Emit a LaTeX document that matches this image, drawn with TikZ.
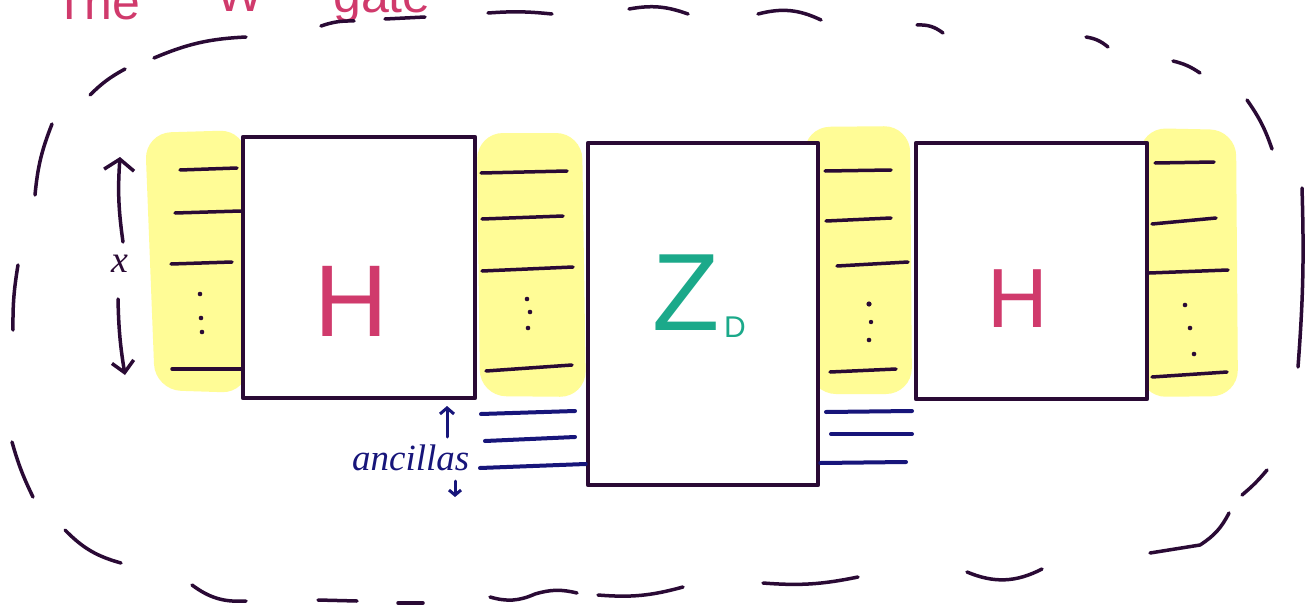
\documentclass[tikz,border=0pt]{standalone}
\usepackage{fontspec}
\setmainfont{Liberation Sans}
\newfontfamily\serifit{Liberation Serif}
\usetikzlibrary{arrows.meta}
\definecolor{ink}{RGB}{42,10,53}
\definecolor{crimson}{RGB}{208,58,108}
\definecolor{zgreen}{RGB}{27,169,138}
\definecolor{navyink}{RGB}{23,21,122}
\definecolor{hl}{RGB}{255,252,150}
\begin{document}
\begin{tikzpicture}[x=1pt,y=-1pt, line cap=round, line join=round,
  wire/.style={ink, line width=3.5pt},
  anc/.style={navyink, line width=4pt},
  gatebox/.style={draw=ink, line width=4.5pt, fill=white, inner sep=0pt},
  hlblob/.style={fill=hl, rounded corners=26pt},
  dsh/.style={ink, line width=3.5pt},
  dotm/.style={ink},
  titletext/.style={text=crimson, anchor=base west, font=\fontsize{50}{50}\selectfont, inner sep=0pt}]
\clip (0,0) rectangle (1308,607);
\fill[white] (0,0) rectangle (1308,607);

% title (cut off at top, as in the reference)
\node[titletext] (t1) at (54,20) {The};
\node[titletext] (t2) at (200,12) {“W”};
\node[titletext] (t3) at (333,13) {gate};

% highlight blobs
\fill[hlblob] (145,133) -- (246,130) -- (248,393) -- (155,390) -- cycle;
\fill[hlblob] (477,133) -- (582,133) -- (586,397) -- (480,396) -- cycle;
\fill[hlblob] (804,127) -- (910,126) -- (912,394) -- (810,394) -- cycle;
\fill[hlblob] (1140,128) -- (1236,130) -- (1238,396) -- (1140,397) -- cycle;

% gate boxes
\node[gatebox, minimum width=232pt, minimum height=261pt] (h1) at (359,267.5) {};
\node[gatebox, minimum width=230pt, minimum height=342pt] (zd) at (703,314) {};
\node[gatebox, minimum width=231pt, minimum height=256pt] (h2) at (1031.5,271) {};

% wires, block 1
\draw[wire] (180,170) -- (237,168);
\draw[wire] (175,213) -- (h1.west |- 0,211);
\draw[wire] (171,264) -- (232,262);
\draw[wire] (172,369) -- (h1.west |- 0,369);
\fill[dotm] (200,294) circle (2.3pt) (201,318) circle (2.3pt) (202,332) circle (2.3pt);
% block 2
\draw[wire] (481,173) -- (567,171);
\draw[wire] (482,219) -- (563,216);
\draw[wire] (482,271) -- (573,267);
\draw[wire] (486,371) -- (572,365);
\fill[dotm] (527,299) circle (2.3pt) (530,312) circle (2.3pt) (528,328) circle (2.3pt);
% block 3
\draw[wire] (825,171) -- (891,170);
\draw[wire] (826,221) -- (891,218);
\draw[wire] (837,266) -- (908,262);
\draw[wire] (830,372) -- (896,369);
\fill[dotm] (869,304) circle (2.6pt) (871,322) circle (2.2pt) (869,340) circle (2.3pt);
% block 4
\draw[wire] (1155,163) -- (1214,162);
\draw[wire] (1152,224) -- (1216,218);
\draw[wire] (h2.east |- 0,273) -- (1228,270);
\draw[wire] (1152,377) -- (1227,372);
\fill[dotm] (1185,305) circle (2.3pt) (1190,328) circle (2.3pt) (1194,354) circle (2.3pt);

% ancillas
\draw[anc] (481,414) -- (575,411);
\draw[anc] (485,441) -- (575,437);
\draw[anc] (480,468) -- (zd.west |- 0,464);
\draw[anc] (826,412) -- (912,411);
\draw[anc] (831,434) -- (912,434);
\draw[anc] (zd.east |- 0,463) -- (906,462);

% labels
\node[text=crimson, font=\fontsize{102}{102}\selectfont, inner sep=0pt] (lh1) at (351,301) {H};
\node[text=crimson, font=\fontsize{84}{84}\selectfont, inner sep=0pt] (lh2) at (1018,299) {H};
\node[text=zgreen, font=\fontsize{110}{110}\selectfont, inner sep=0pt] (lz) at (686,293) {Z};
\node[text=zgreen, font=\fontsize{30}{30}\selectfont, inner sep=0pt] (ld) at (735,327) {D};

\node[text=navyink, anchor=base west, inner sep=0pt, font=\serifit\itshape\fontsize{37}{37}\selectfont] (anclab) at (352,470) {ancillas};
\coordinate (upend) at (447,406);
\coordinate (downend) at (455,497);
\draw[navyink, line width=3pt, -{Straight Barb[length=6pt,width=14pt]}] (447,437) -- (upend);
\draw[navyink, line width=3pt, -{Straight Barb[length=5pt,width=12pt]}] (455,481) -- (downend);

% x register size
\node[text=ink, inner sep=0pt, font=\serifit\itshape\fontsize{38}{38}\selectfont] (xl) at (120,264) {x};
\coordinate (xtop) at (120,157);
\coordinate (xbot) at (125,375);
\draw[ink, line width=3.5pt, -{Straight Barb[length=11pt,width=30pt]}] (123,242) to[bend left=6] (xtop);
\draw[ink, line width=3.5pt, -{Straight Barb[length=11pt,width=22pt]}] (118,299) to[bend right=4] (xbot);

% dashed outline (hand drawn dashes)
\draw[dsh] (35,195) to[bend left=8] (52,124);
\draw[dsh] (90,95) to[bend left=8] (125,69);
\draw[dsh] (154,58) to[bend left=10] (246,37);
\draw[dsh] (321,26) to[bend left=10] (354,21);
\draw[dsh] (385,19) -- (425,17);
\draw[dsh] (488,13) to[bend left=5] (552,14);
\draw[dsh] (629,9) to[bend left=15] (688,14);
\draw[dsh] (758,14) to[bend left=20] (821,20);
\draw[dsh] (917,25) to[bend left=20] (943,33);
\draw[dsh] (1086,37) to[bend left=15] (1108,47);
\draw[dsh] (1173,61) to[bend left=10] (1200,73);
\draw[dsh] (1247,100) to[bend left=8] (1272,149);
\draw[dsh] (1302,188) to[bend left=3] (1298,367);
\draw[dsh] (1267,470) to[bend left=5] (1242,495);
\draw[dsh] (1229,513) to[bend left=15] (1200,545) -- (1150,553);
\draw[dsh] (1042,569) to[bend left=25] (967,572);
\draw[dsh] (858,577) to[bend left=8] (763,583);
\draw[dsh] (683,587) to[bend left=10] (598,595);
\draw[dsh] (577,593) to[bend right=15] (535,594) to[bend left=20] (490,597);
\draw[dsh] (423,603) -- (398,603);
\draw[dsh] (357,601) -- (318,600);
\draw[dsh] (246,601) to[bend left=20] (192,585);
\draw[dsh] (121,563) to[bend left=15] (65,530);
\draw[dsh] (33,497) to[bend left=5] (12,442);
\draw[dsh] (13,330) to[bend left=5] (18,265);
\end{tikzpicture}
\end{document}
